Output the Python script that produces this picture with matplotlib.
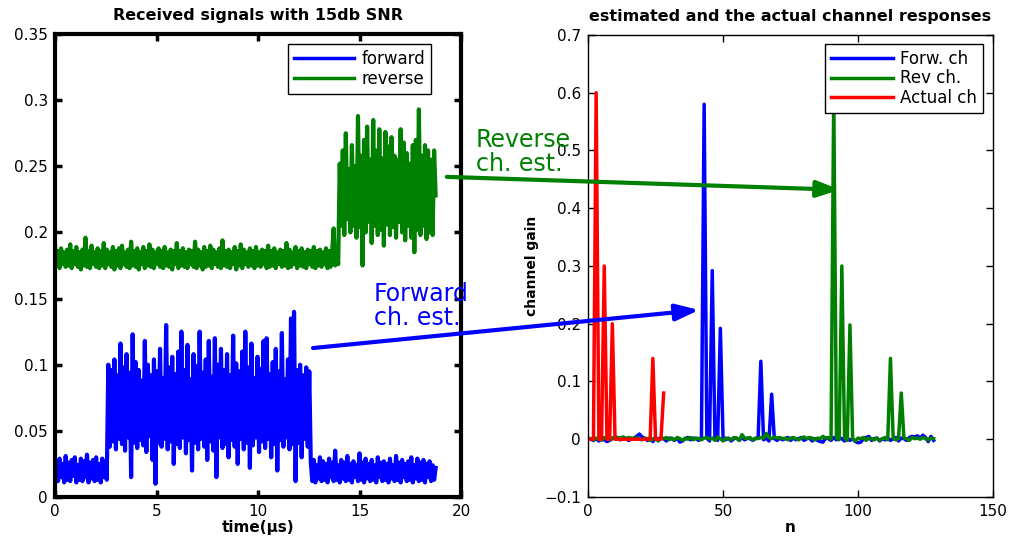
import matplotlib.pyplot as plt
import numpy as np
from matplotlib.patches import ConnectionPatch
from matplotlib.ticker import FuncFormatter, MultipleLocator

# received signals, one sample every 0.075 us, values in units of 1e-3
dt_us = 0.075

forward_pre = [14, 27, 12, 29, 15, 25, 11, 31, 13, 26,
               12, 28, 16, 30, 11, 24, 13, 29, 12, 27,
               15, 32, 11, 26, 14, 28, 12, 30, 13, 25,
               11, 29, 15, 27, 13]
forward_burst = [100, 38, 96, 42, 104, 36, 92, 44, 116, 40,
                 98, 35, 108, 45, 94, 15, 123, 41, 102, 37,
                 96, 43, 88, 39, 118, 34, 100, 46, 92, 28,
                 104, 10, 95, 41, 112, 38, 90, 44, 130, 36,
                 98, 42, 106, 25, 93, 40, 110, 37, 125, 45,
                 96, 33, 115, 43, 89, 20, 108, 41, 99, 36,
                 125, 44, 94, 38, 104, 28, 118, 42, 91, 35,
                 120, 15, 100, 45, 112, 37, 96, 40, 108, 30,
                 92, 43, 122, 38, 101, 25, 95, 44, 110, 36,
                 125, 41, 98, 22, 116, 39, 90, 45, 106, 34,
                 97, 42, 118, 37, 120, 44, 93, 30, 102, 40,
                 112, 20, 95, 43, 124, 38, 89, 45, 104, 36,
                 135, 40, 140, 12, 96, 41, 100, 30, 92, 44,
                 98, 38, 95]
forward_post = [26, 12, 28, 11, 24, 14, 30, 12, 27, 13,
                25, 11, 29, 15, 26, 12, 35, 13, 24, 11,
                28, 14, 26, 12, 31, 13, 25, 11, 27, 15,
                24, 12, 33, 13, 26, 11, 29, 14, 25, 12,
                28, 13, 24, 11, 30, 15, 26, 12, 27, 13,
                25, 11, 29, 14, 24, 12, 31, 13, 26, 11,
                28, 15, 25, 12, 27, 13, 30, 11, 24, 14,
                29, 12, 26, 13, 28, 11, 25, 15, 27, 12,
                24, 13, 22]

reverse_pre = [190, 175, 186, 173, 188, 176, 185, 174, 187, 175,
               191, 173, 186, 176, 189, 174, 185, 172, 187, 175,
               196, 174, 186, 173, 190, 176, 185, 174, 188, 173,
               186, 175, 192, 173, 187, 176, 185, 174, 189, 172,
               186, 175, 188, 173, 190, 176, 185, 174, 187, 173,
               193, 175, 186, 174, 188, 172, 185, 176, 189, 173,
               186, 175, 191, 174, 187, 173, 185, 176, 188, 174,
               186, 173, 189, 175, 185, 174, 187, 172, 186, 176,
               192, 173, 186, 175, 188, 174, 185, 173, 187, 176,
               186, 174, 193, 173, 187, 175, 185, 172, 189, 174,
               186, 175, 190, 173, 187, 176, 185, 174, 188, 173,
               194, 175, 186, 174, 187, 173, 185, 176, 189, 172,
               186, 175, 191, 173, 187, 176, 185, 174, 188, 175,
               186, 173, 189, 175, 185, 174, 187, 176, 186, 173,
               190, 174, 186, 175, 188, 173, 185, 176, 187, 174,
               186, 175, 192, 173, 187, 174, 185, 176, 189, 173,
               186, 175, 188, 174, 185, 173, 187, 176, 186, 174,
               189, 173, 186, 175, 187, 174, 185, 176, 188, 173,
               186, 174, 185, 203, 175, 186, 176]
reverse_burst = [252, 205, 262, 198, 275, 210, 248, 200, 266, 205,
                 250, 196, 288, 204, 258, 175, 270, 200, 280, 208,
                 255, 192, 285, 205, 262, 198, 278, 202, 256, 190,
                 276, 206, 265, 198, 272, 204, 258, 196, 255, 208,
                 278, 200, 268, 194, 260, 205, 252, 196, 266, 185,
                 270, 202, 293, 198, 258, 205, 266, 195, 262, 200,
                 255, 198, 262, 228]

# channel taps for n = 1, 2, ..., units of 1e-3
forw_ch = [0, -2, 1, -3, 2, -1, -4, -2, 1, 3,
           2, -1, 3, 1, -2, 0, 2, 5, 9, 4,
           1, -2, 3, -4, 2, 0, 3, 1, -3, 2,
           1, -2, 2, -5, -3, 1, 3, -1, 2, 1,
           -2, 3, 580, 2, -3, 292, 1, -2, 192, 3,
           -1, 2, -3, 1, 2, -2, 3, -1, 2, 1,
           -2, 1, 3, 135, -1, 2, -3, 78, 1, -2,
           2, -1, 1, 3, -2, 2, -1, 1, 3, -2,
           1, 2, -3, 1, -2, -4, -5, 2, 1, -2,
           3, -1, 2, 1, -3, 2, -2, 1, -4, -6,
           -5, 1, 3, 5, -2, 1, 2, -3, 1, -1,
           2, -2, 1, 3, -3, 2, 1, -2, 3, 5,
           4, 6, 2, 7, 3, -4, 5, -2]
rev_ch = [1, -1, 2, 0, -2, 3, 1, -1, 2, 4,
          3, 2, 4, 1, 3, 2, 1, 3, 0, -1,
          2, 1, -2, 0, 3, -3, 2, 1, 3, -1,
          2, -1, 3, 1, -2, 2, 0, 3, -1, 2,
          1, -1, 2, 3, 0, 2, -2, 4, 1, -3,
          2, 1, -1, 3, 2, -2, 8, 2, 1, 3,
          -1, 2, 1, 3, 2, 10, 3, 1, 4, 2,
          3, 1, 2, -1, 2, 3, 1, -1, 2, 4,
          1, 3, 2, -1, 2, 1, 5, 2, 3, 0,
          600, 2, -1, 300, 2, -2, 198, 1, -3, 2,
          1, 3, -2, 2, 1, -1, 2, -2, 1, 3,
          -1, 140, 2, -1, 1, 80, 2, 1, -2, 3,
          1, 2, 0, 3, 1, -1, 2, 1]
actual_ch = [0, 0, 600, 0, 0, 300, 0, 0, 200, 0,
             0, 0, 0, 0, 0, 0, 0, 0, 0, 0,
             0, 0, 0, 140, 0, 0, 0, 80]

GREEN = '#008000'

forward = np.array(forward_pre + forward_burst + forward_post) * 1e-3
reverse = np.array(reverse_pre + reverse_burst) * 1e-3
t_fwd = np.arange(len(forward)) * dt_us
t_rev = np.arange(len(reverse)) * dt_us

forw = np.array(forw_ch) * 1e-3
rev = np.array(rev_ch) * 1e-3
actual = np.array(actual_ch) * 1e-3


def matlab_fmt(v, pos):
    return ('%g' % round(v, 10)).replace('-', '\u2212')


fig = plt.figure(figsize=(10.13, 5.44), dpi=100)
ax1 = fig.add_axes([0.0543, 0.0864, 0.4008, 0.8511])
ax2 = fig.add_axes([0.5805, 0.0864, 0.3998, 0.8493])

# left: received signals
ax1.plot(t_fwd, forward, color='blue', lw=3, label='forward')
ax1.plot(t_rev, reverse, color=GREEN, lw=3, label='reverse')
ax1.set_xlim(0, 20)
ax1.set_ylim(0, 0.35)
ax1.xaxis.set_major_locator(MultipleLocator(5))
ax1.yaxis.set_major_locator(MultipleLocator(0.05))
ax1.yaxis.set_major_formatter(FuncFormatter(matlab_fmt))
ax1.tick_params(direction='in', top=True, right=True, labelsize=11,
                width=2.5, length=5, pad=5)
for sp in ax1.spines.values():
    sp.set_linewidth(3)
ax1.set_title('Received signals with 15db SNR', fontsize=11.5,
              fontweight='bold', pad=10)
ax1.set_xlabel('time(\u03bcs)', fontsize=11, fontweight='bold', labelpad=1)
leg1 = ax1.legend(loc='upper right', bbox_to_anchor=(0.926, 0.978),
                  borderaxespad=0, fontsize=12, handlelength=3.6,
                  handletextpad=0.45, labelspacing=0.1, borderpad=0.35,
                  fancybox=False, framealpha=1, edgecolor='black')
leg1.get_frame().set_linewidth(1)
for h in leg1.get_lines():
    h.set_linewidth(2.5)

# right: channel estimates vs actual
n_forw = np.arange(1, len(forw) + 1)
n_rev = np.arange(1, len(rev) + 1)
n_act = np.arange(1, len(actual) + 1)
ax2.plot(n_forw, forw, color='blue', lw=2.5, label='Forw. ch')
ax2.plot(n_rev, rev, color=GREEN, lw=2.5, label='Rev ch.')
ax2.plot(n_act, actual, color='red', lw=2.5, label='Actual ch')
ax2.set_xlim(0, 150)
ax2.set_ylim(-0.1, 0.7)
ax2.xaxis.set_major_locator(MultipleLocator(50))
ax2.yaxis.set_major_locator(MultipleLocator(0.1))
ax2.yaxis.set_major_formatter(FuncFormatter(matlab_fmt))
ax2.tick_params(direction='in', top=True, right=True, labelsize=11,
                width=1, length=5, pad=5)
for sp in ax2.spines.values():
    sp.set_linewidth(1)
ax2.set_title('estimated and the actual channel responses', fontsize=11.5,
              fontweight='bold', pad=10)
ax2.set_xlabel('n', fontsize=11, fontweight='bold', labelpad=1)
ax2.set_ylabel('channel gain', fontsize=10, fontweight='bold')
leg2 = ax2.legend(loc='upper right', bbox_to_anchor=(0.975, 0.9805),
                  borderaxespad=0, fontsize=12, handlelength=3.7,
                  handletextpad=0.45, labelspacing=0.1, borderpad=0.35,
                  fancybox=False, framealpha=1, edgecolor='black')
leg2.get_frame().set_linewidth(1)

# arrows linking each received burst to its estimated channel
arrow_style = '-|>,head_length=0.7,head_width=0.25'
rev_arrow = ConnectionPatch(xyA=(19.3, 0.242), coordsA=ax1.transData,
                            xyB=(93.3, 0.432), coordsB=ax2.transData,
                            arrowstyle=arrow_style, mutation_scale=20,
                            color=GREEN, lw=3, zorder=5)
fwd_arrow = ConnectionPatch(xyA=(12.71, 0.1126), coordsA=ax1.transData,
                            xyB=(41.1, 0.2238), coordsB=ax2.transData,
                            arrowstyle=arrow_style, mutation_scale=20,
                            color='blue', lw=3, zorder=5)
fig.add_artist(rev_arrow)
fig.add_artist(fwd_arrow)
fig.text(476 / 1013, 1 - 152 / 544, 'Reverse\nch. est.', color=GREEN,
         fontsize=17, ha='left', va='center', linespacing=0.95)
fig.text(374 / 1013, 1 - 306 / 544, 'Forward\nch. est.', color='blue',
         fontsize=17, ha='left', va='center', linespacing=0.95)

fig.savefig('out.png', dpi=100)
